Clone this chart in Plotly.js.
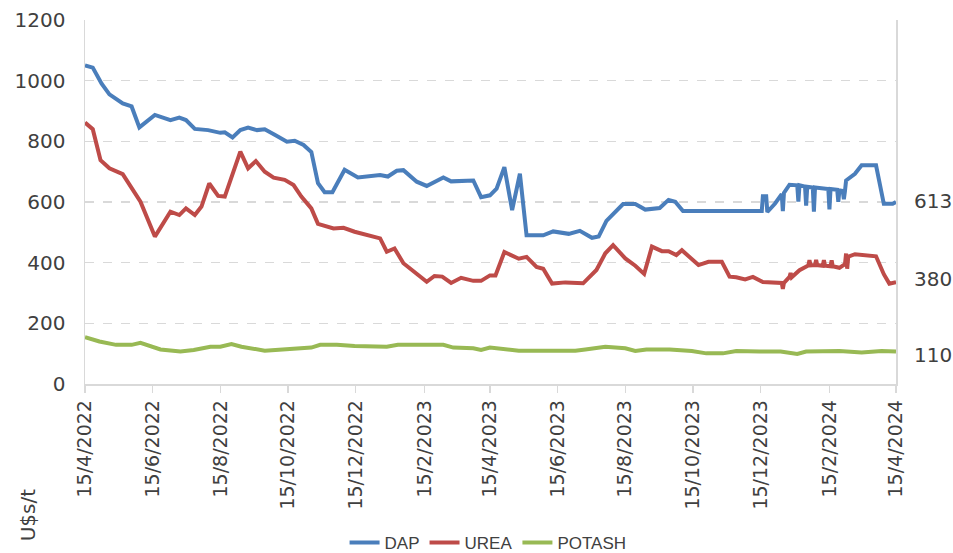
<!DOCTYPE html>
<html>
<head>
<meta charset="utf-8">
<script src="https://cdn.plot.ly/plotly-3.0.1.min.js"></script>
<style>html,body{margin:0;padding:0;background:#fff;}#chart{width:953px;height:553px;}</style>
</head>
<body>
<div id="chart"></div>
<script>
// ---- DATA ----
const dapDates = ['2022-04-15','2022-04-22','2022-04-30','2022-05-07','2022-05-19','2022-05-27','2022-06-03','2022-06-17','2022-07-01','2022-07-09','2022-07-15','2022-07-23','2022-08-04','2022-08-15','2022-08-19','2022-08-26','2022-09-02','2022-09-09','2022-09-17','2022-09-24','2022-10-03','2022-10-14','2022-10-21','2022-10-29','2022-11-05','2022-11-11','2022-11-17','2022-11-24','2022-12-05','2022-12-17','2023-01-06','2023-01-13','2023-01-21','2023-01-27','2023-02-08','2023-02-17','2023-03-04','2023-03-11','2023-03-31','2023-04-07','2023-04-15','2023-04-21','2023-04-28','2023-05-05','2023-05-12','2023-05-18','2023-06-02','2023-06-11','2023-06-25','2023-07-05','2023-07-16','2023-07-22','2023-07-29','2023-08-13','2023-08-24','2023-09-02','2023-09-15','2023-09-23','2023-09-29','2023-10-06','2023-12-16','2023-12-17','2023-12-20','2023-12-21','2023-12-28','2024-01-03','2024-01-04','2024-01-05','2024-01-10','2024-01-17','2024-01-18','2024-01-19','2024-01-24','2024-01-25','2024-01-26','2024-01-31','2024-02-01','2024-02-02','2024-02-14','2024-02-15','2024-02-16','2024-02-22','2024-02-23','2024-02-24','2024-02-27','2024-02-28','2024-02-29','2024-03-01','2024-03-09','2024-03-15','2024-03-28','2024-04-04','2024-04-12','2024-04-15'];
const dapValues = [1050,1043,990,955,925,915,846,887,870,878,870,841,837,828,830,813,837,845,837,840,822,799,802,788,765,662,632,632,706,681,689,684,703,705,667,653,681,668,671,616,622,644,715,573,693,490,490,503,495,505,482,486,538,593,593,575,580,607,601,570,570,619,619,567,595,626,570,630,657,655,601,655,651,588,650,648,568,648,643,576,643,640,601,638,636,609,636,671,693,721,721,594,594,600];

const ureaDates = ['2022-04-15','2022-04-22','2022-04-29','2022-05-07','2022-05-19','2022-05-27','2022-06-04','2022-06-17','2022-07-01','2022-07-09','2022-07-15','2022-07-23','2022-07-29','2022-08-05','2022-08-13','2022-08-19','2022-09-02','2022-09-09','2022-09-16','2022-09-24','2022-10-02','2022-10-12','2022-10-20','2022-10-27','2022-11-05','2022-11-11','2022-11-25','2022-12-04','2022-12-14','2023-01-06','2023-01-12','2023-01-19','2023-01-27','2023-02-17','2023-02-24','2023-03-03','2023-03-11','2023-03-20','2023-03-31','2023-04-07','2023-04-15','2023-04-20','2023-04-28','2023-05-11','2023-05-18','2023-05-27','2023-06-02','2023-06-10','2023-06-22','2023-07-08','2023-07-20','2023-07-28','2023-08-04','2023-08-15','2023-08-24','2023-09-01','2023-09-08','2023-09-17','2023-09-23','2023-09-30','2023-10-05','2023-10-20','2023-10-29','2023-11-10','2023-11-17','2023-11-23','2023-12-01','2023-12-08','2023-12-17','2024-01-03','2024-01-04','2024-01-05','2024-01-10','2024-01-11','2024-01-12','2024-01-19','2024-01-27','2024-01-28','2024-01-29','2024-02-02','2024-02-03','2024-02-04','2024-02-09','2024-02-10','2024-02-11','2024-02-16','2024-02-17','2024-02-18','2024-02-24','2024-02-29','2024-03-01','2024-03-02','2024-03-03','2024-03-09','2024-03-28','2024-04-04','2024-04-09','2024-04-15'];
const ureaValues = [862,840,738,711,692,645,601,486,568,557,579,557,585,661,620,618,766,711,735,700,680,673,656,618,579,528,513,515,502,480,436,447,398,337,356,354,333,350,340,340,358,358,435,413,419,386,380,331,335,332,376,431,458,414,390,363,453,438,438,425,441,392,403,403,354,352,345,353,336,333,314,333,353,366,352,375,391,408,391,392,409,392,390,408,390,388,408,388,383,395,430,380,420,428,421,362,331,336];

const potashDates = ['2022-04-15','2022-04-28','2022-05-13','2022-05-27','2022-06-04','2022-06-22','2022-07-10','2022-07-22','2022-08-06','2022-08-15','2022-08-25','2022-09-03','2022-09-24','2022-10-09','2022-10-24','2022-11-05','2022-11-13','2022-11-28','2022-12-14','2023-01-12','2023-01-22','2023-03-04','2023-03-13','2023-03-31','2023-04-07','2023-04-15','2023-05-11','2023-07-01','2023-07-10','2023-07-28','2023-08-15','2023-08-24','2023-09-03','2023-09-24','2023-10-14','2023-10-27','2023-11-11','2023-11-23','2023-12-14','2024-01-02','2024-01-17','2024-01-25','2024-02-24','2024-03-15','2024-04-02','2024-04-15'];
const potashValues = [154,140,129,129,136,114,107,112,123,123,132,123,110,114,120,120,129,129,125,123,129,129,120,118,112,120,110,110,114,123,118,109,114,114,109,101,101,109,107,107,99,107,109,104,109,107];

const seriesNames = ['DAP','UREA','POTASH'];
const lastLabels = ['613','380','110'];
const lastLabelLevels = [602,345,94];

const tickDates = ['2022-04-15','2022-06-15','2022-08-15','2022-10-15','2022-12-15','2023-02-15','2023-04-15','2023-06-15','2023-08-15','2023-10-15','2023-12-15','2024-02-15','2024-04-15'];
const tickLabels = ['15/4/2022','15/6/2022','15/8/2022','15/10/2022','15/12/2022','15/2/2023','15/4/2023','15/6/2023','15/8/2023','15/10/2023','15/12/2023','15/2/2024','15/4/2024'];
const yTicks = [0,200,400,600,800,1000,1200];
const yUnit = 'U$s/t';

// ---- STYLE ----
const colors = ['#4a7ebb','#be4b48','#98b954'];
const textColor = '#404040';
const gridColor = '#d9d9d9';
const font = 'DejaVu Sans, sans-serif';

const xs = [dapDates, ureaDates, potashDates];
const ys = [dapValues, ureaValues, potashValues];
const traces = seriesNames.map((n, i) => ({
  type: 'scatter', mode: 'lines', name: n,
  x: xs[i], y: ys[i],
  line: {color: colors[i], width: 4},
  hoverinfo: 'x+y+name'
}));

const annotations = lastLabels.map((t, i) => ({
  text: t, xref: 'paper', yref: 'y', x: 1.02, y: lastLabelLevels[i],
  xanchor: 'left', yanchor: 'middle', showarrow: false,
  font: {family: font, size: 20, color: textColor}
}));
annotations.push({
  text: yUnit, xref: 'paper', yref: 'paper', x: -0.07, y: -0.36,
  xanchor: 'center', yanchor: 'middle', textangle: -90, showarrow: false,
  font: {family: font, size: 20, color: textColor}
});

const layout = {
  width: 953, height: 553,
  margin: {l: 85, r: 57, t: 20, b: 169, autoexpand: false},
  paper_bgcolor: '#ffffff', plot_bgcolor: '#ffffff',
  font: {family: font, color: textColor},
  showlegend: true,
  legend: {
    orientation: 'h', x: 0.497, xanchor: 'center', y: -0.437, yanchor: 'middle',
    font: {family: 'Liberation Sans Narrow, Liberation Sans, sans-serif', size: 17, color: textColor},
    itemwidth: 30, tracegroupgap: 0
  },
  xaxis: {
    type: 'date', range: [tickDates[0], tickDates[tickDates.length - 1]],
    tickmode: 'array', tickvals: tickDates, ticktext: tickLabels,
    tickangle: -90, tickfont: {family: font, size: 19, color: textColor},
    showgrid: false, zeroline: false, automargin: false,
    showline: true, linecolor: gridColor, linewidth: 1.5,
    ticks: 'outside', ticklen: 7, tickcolor: gridColor, tickwidth: 1.5
  },
  yaxis: {
    range: [0, 1200], tickmode: 'array', tickvals: yTicks,
    tickfont: {family: font, size: 20, color: textColor},
    showgrid: true, gridcolor: gridColor, griddash: 'dash', gridwidth: 1.5,
    zeroline: false, showline: true, mirror: true, linecolor: gridColor, linewidth: 1.5,
    automargin: false,
    ticks: 'outside', ticklen: 14, tickcolor: 'rgba(0,0,0,0)'
  },
  annotations: annotations
};

Plotly.newPlot('chart', traces, layout, {displayModeBar: false, staticPlot: true});
</script>
</body>
</html>
